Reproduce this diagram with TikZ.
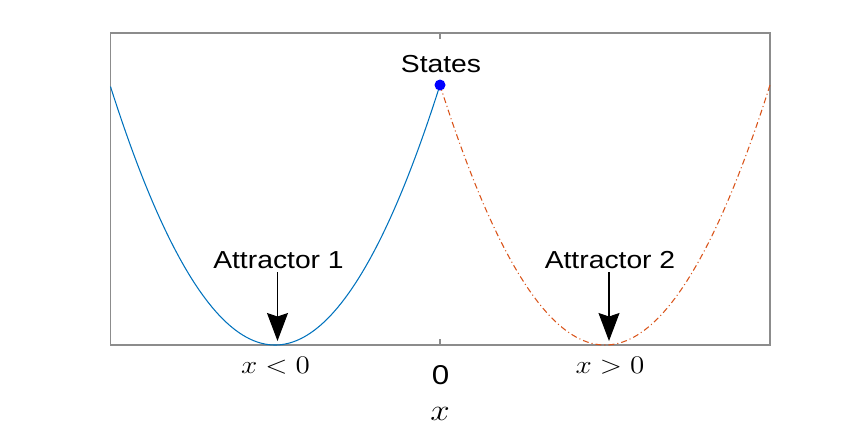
\documentclass[tikz,border=0pt]{standalone}
\usepackage[no-math]{fontspec}
\setmainfont{Liberation Sans}
\usepackage{amsmath}
\usetikzlibrary{arrows.meta, positioning}
\definecolor{framegray}{RGB}{140, 140, 140}
\definecolor{leftcolor}{RGB}{0, 114, 189}
\definecolor{rightcolor}{RGB}{217, 83, 25}
\definecolor{statecolor}{RGB}{0, 0, 255}

\begin{document}
\begin{tikzpicture}[x=0.02cm, y=-0.02cm,
    lbl/.style={xscale=1.15, transform shape, inner sep=2pt, font=\fontsize{14}{16}\selectfont},
    mathlbl/.style={xscale=1.15, transform shape, inner sep=1pt, font=\fontsize{14.5}{17}\selectfont},
    pointer/.style={-{Stealth[length=0.56cm, width=0.42cm, inset=0.07cm]}, line width=0.6pt, black}]
        \useasboundingbox (0, 0) rectangle (852, 434);

        % Axes box and ticks
        \draw[framegray, line width=0.85pt] (110.5, 33) rectangle (770, 345);
        \draw[framegray, line width=0.85pt] (440, 33) -- (440, 39);
        \draw[framegray, line width=0.85pt] (440, 345) -- (440, 339);

        % Potential wells
        \draw[leftcolor, line width=0.6pt] plot[domain=110.5:440, samples=120] (\x, {345-260*((\x-275)/165)*((\x-275)/165)});
        \draw[rightcolor, line width=0.6pt, dash pattern=on 3.4pt off 1.7pt on 0.6pt off 1.7pt] plot[domain=440:770, samples=120] (\x, {345-260*((\x-605)/165)*((\x-605)/165)});

        % State marker
        \node[circle, fill=statecolor, inner sep=0pt, minimum size=0.22cm] (state) at (440, 85) {};
        \node[lbl, anchor=base] (statelbl) at (441, 72) {States};

        % Attractors
        \node[lbl, anchor=base] (attrone) at (278.5, 268) {Attractor 1};
        \node[lbl, anchor=base] (attrtwo) at (610, 268) {Attractor 2};
        \coordinate (minone) at (277.5, 341);
        \coordinate (mintwo) at (609, 341);
        \draw[pointer] (attrone.south -| minone) -- (minone);
        \draw[pointer] (attrtwo.south -| mintwo) -- (mintwo);

        % Axis labels
        \node[mathlbl] (negside) at (275.5, 366) {$x<0$};
        \node[mathlbl] (posside) at (610, 366) {$x>0$};
        \node[lbl, font=\fontsize{15.5}{18}\selectfont] (zerotick) at (440.5, 375) {0};
        \node[mathlbl, font=\fontsize{17}{20}\selectfont] (xaxis) at (440, 414) {$x$};
    \end{tikzpicture}
\end{document}
